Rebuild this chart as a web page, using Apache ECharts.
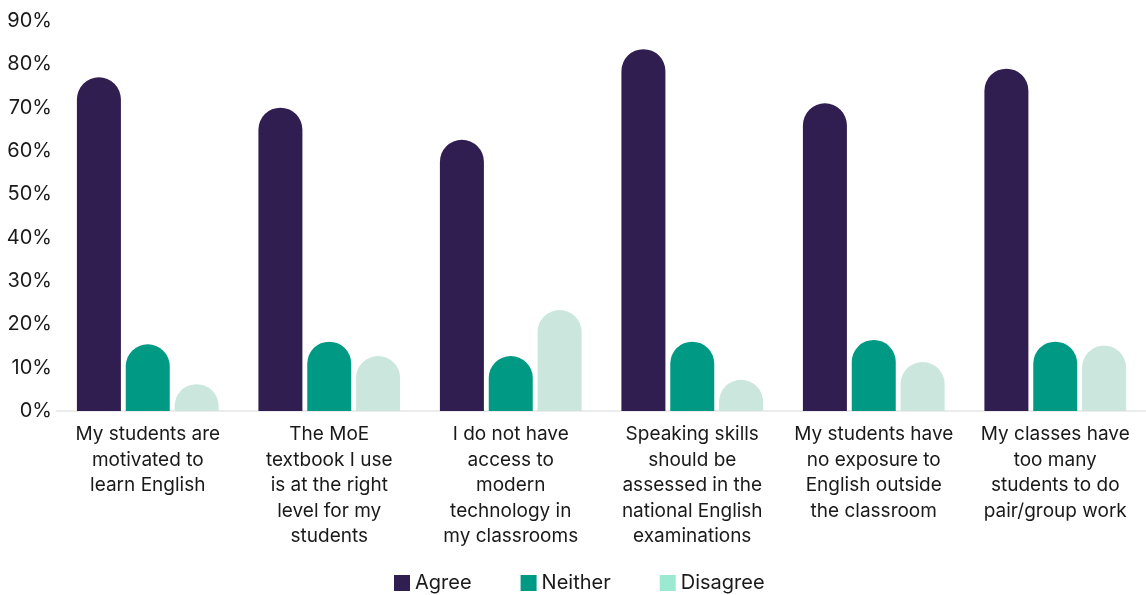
<!DOCTYPE html>
<html>
<head>
<meta charset="utf-8">
<script src="https://cdn.jsdelivr.net/npm/echarts@6/dist/echarts.min.js"></script>
<style>
  html, body { margin: 0; padding: 0; background: #ffffff; }
  #chart { width: 1146px; height: 595px; }
</style>
</head>
<body>
<div id="chart"></div>
<script>
// Survey statements (line breaks as displayed under each group)
const categories = [
  'My students are\nmotivated to\nlearn English',
  'The MoE\ntextbook I use\nis at the right\nlevel for my\nstudents',
  'I do not have\naccess to\nmodern\ntechnology in\nmy classrooms',
  'Speaking skills\nshould be\nassessed in the\nnational English\nexaminations',
  'My students have\nno exposure to\nEnglish outside\nthe classroom',
  'My classes have\ntoo many\nstudents to do\npair/group work'
];

// Share of respondents (%)
const agree    = [77, 70, 62.6, 83.5, 71, 79];
const neither  = [15.4, 16, 12.7, 16, 16.4, 16];
const disagree = [6.2, 12.7, 23.3, 7.2, 11.3, 15.1];

const yTicks = [0, 10, 20, 30, 40, 50, 60, 70, 80, 90];

const FONT = 'Inter, "Open Sans", sans-serif';
const TEXT = '#1a1a1a';
const COLORS = { Agree: '#311e50', Neither: '#009a84', Disagree: '#cbe6dc' };

const chart = echarts.init(document.getElementById('chart'), null, { renderer: 'canvas' });

function barSeries(name, values) {
  return {
    name: name,
    type: 'bar',
    data: values,
    barWidth: 44,
    barGap: '11%',
    itemStyle: { color: COLORS[name], borderRadius: [22, 22, 0, 0] },
    emphasis: { disabled: true }
  };
}

chart.setOption({
  animation: false,
  textStyle: { fontFamily: FONT },
  grid: { left: 57, top: 21, width: 1091, height: 390, containLabel: false },
  legend: {
    top: 568,
    left: 389,
    itemWidth: 16,
    itemHeight: 16,
    itemGap: 49,
    icon: 'rect',
    textStyle: { fontFamily: FONT, fontSize: 20, color: TEXT },
    data: [
      { name: 'Agree' },
      { name: 'Neither' },
      { name: 'Disagree', itemStyle: { color: '#9be9d0' } }
    ]
  },
  xAxis: {
    type: 'category',
    data: categories,
    axisLine: { show: true, lineStyle: { color: '#ececec', width: 2 } },
    axisTick: { show: false },
    axisLabel: {
      interval: 0,
      margin: 11,
      fontFamily: FONT,
      fontSize: 19,
      lineHeight: 25.5,
      color: TEXT,
      align: 'center',
      verticalAlign: 'top'
    }
  },
  yAxis: {
    type: 'value',
    min: yTicks[0],
    max: yTicks[yTicks.length - 1],
    interval: 10,
    splitLine: { show: false },
    axisLine: { show: false },
    axisTick: { show: false },
    axisLabel: {
      margin: 5,
      fontFamily: FONT,
      fontSize: 20,
      color: TEXT,
      formatter: v => v + '%'
    }
  },
  series: [
    barSeries('Agree', agree),
    barSeries('Neither', neither),
    barSeries('Disagree', disagree)
  ]
});
</script>
</body>
</html>
